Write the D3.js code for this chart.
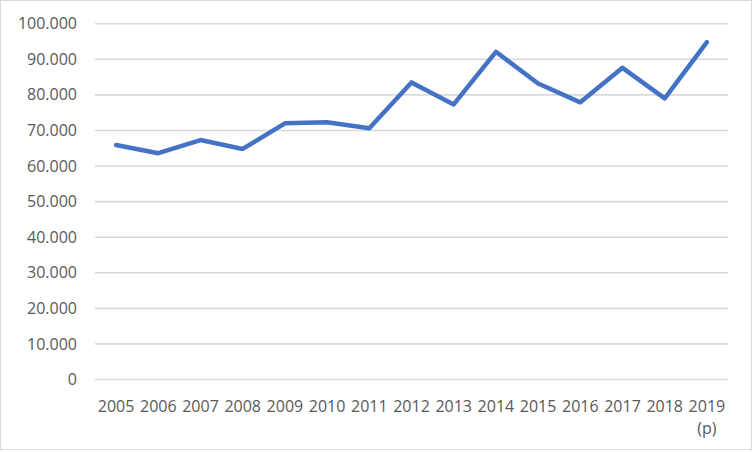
<!DOCTYPE html>
<html><head><meta charset="utf-8">
<script src="https://cdn.jsdelivr.net/npm/d3@7"></script>
<style>body{margin:0;background:#fff}svg{display:block}text{font-family:"Open Sans",sans-serif;fill:#595959}</style>
</head><body>
<script>
const years = ["2005","2006","2007","2008","2009","2010","2011","2012","2013","2014","2015","2016","2017","2018","2019"];
const yearSub = ["","","","","","","","","","","","","","","(p)"];
const values = [65900,63600,67300,64800,72000,72300,70600,83500,77300,92100,83200,77900,87600,79000,94800];
const yTicks = [0,10000,20000,30000,40000,50000,60000,70000,80000,90000,100000];
const tickLabels = ["0","10.000","20.000","30.000","40.000","50.000","60.000","70.000","80.000","90.000","100.000"];

const W=752,H=452;
const svg=d3.select("body").append("svg").attr("width",W).attr("height",H);
svg.append("rect").attr("x",0.5).attr("y",0.5).attr("width",W-1).attr("height",H-3).attr("fill","#fff").attr("stroke","#d9d9d9");
const x=d3.scaleBand().domain(years).range([95,728]);
const y=d3.scaleLinear().domain([0,100000]).range([379.5,23.7]);
const g=svg.append("g");
g.selectAll("line.grid").data(yTicks).join("line").attr("class","grid")
 .attr("x1",95).attr("x2",728).attr("y1",d=>y(d)).attr("y2",d=>y(d))
 .attr("stroke","#d9d9d9").attr("stroke-width",1.6);
g.selectAll("text.yl").data(yTicks).join("text").attr("class","yl")
 .attr("x",77).attr("y",d=>y(d)).attr("dy","0.35em").attr("text-anchor","end")
 .attr("font-size",16).text((d,i)=>tickLabels[i]);
g.selectAll("text.xl").data(years).join("text").attr("class","xl")
 .attr("x",d=>x(d)+x.bandwidth()/2).attr("y",412).attr("text-anchor","middle")
 .attr("font-size",16).text(d=>d);
g.selectAll("text.xs").data(years).join("text").attr("class","xs")
 .attr("x",d=>x(d)+x.bandwidth()/2).attr("y",434).attr("text-anchor","middle")
 .attr("font-size",16).text((d,i)=>yearSub[i]);
const line=d3.line().x((d,i)=>x(years[i])+x.bandwidth()/2).y(d=>y(d));
g.append("path").datum(values).attr("d",line).attr("fill","none")
 .attr("stroke","#4472c4").attr("stroke-width",4.5).attr("stroke-linejoin","round").attr("stroke-linecap","round");
</script>
</body></html>
